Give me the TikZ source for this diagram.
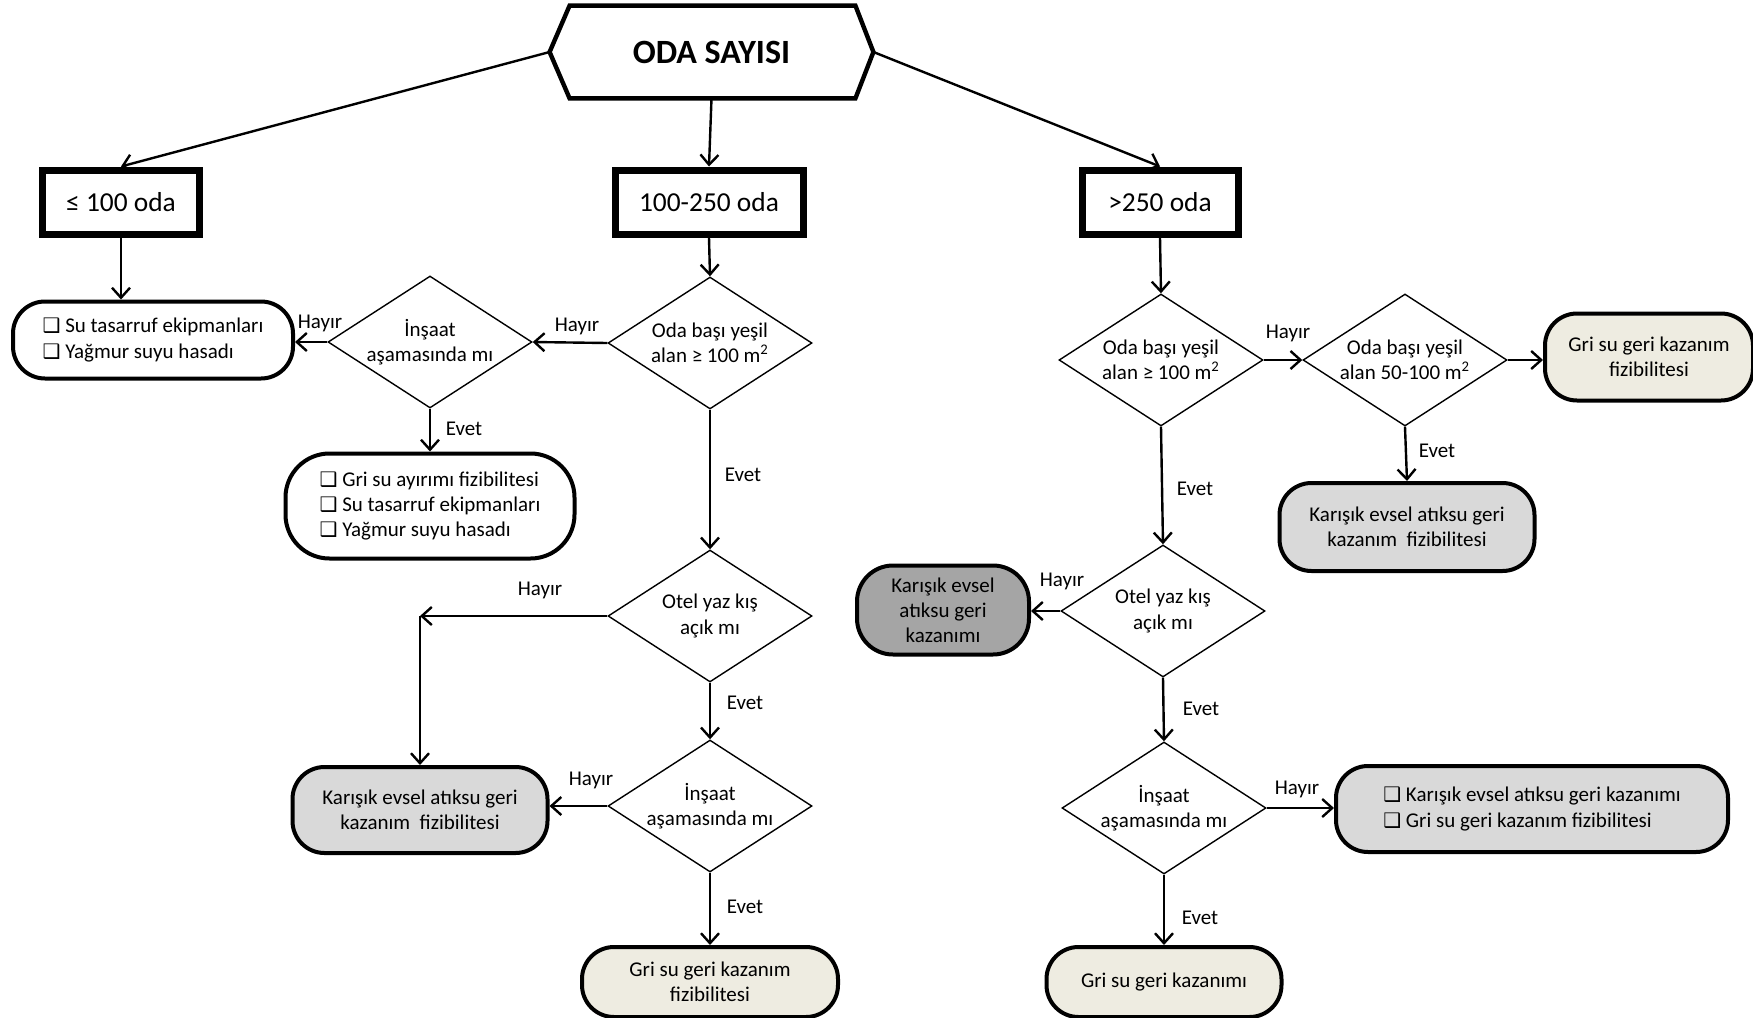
\documentclass[tikz,border=0pt]{standalone}
\usepackage{fontspec}
\setmainfont{Carlito}
\newfontfamily\dejavu{DejaVu Sans}
\usetikzlibrary{shapes.geometric,arrows.meta}
\newcommand{\cbx}{{\dejavu\fontsize{10}{10}\selectfont ❑}\ }
\begin{document}
\begin{tikzpicture}[x=0.5pt,y=-0.5pt,
 every node/.style={font=\fontsize{10.5}{12.6}\selectfont},
 box/.style={draw, line width=3.5pt, minimum height=32pt, font=\fontsize{13.7}{15}\selectfont, inner sep=0pt, text depth=-1pt},
 dia/.style={draw, diamond, line width=0.7pt, aspect=1.55, inner sep=0pt, minimum width=102pt, minimum height=66pt, align=center},
 pill/.style={draw, line width=2pt, rounded corners=16pt, align=center, inner sep=0pt},
 pilllist/.style={pill, align=left},
 lgray/.style={fill=lg},
 cream/.style={fill=cr},
 dgray/.style={fill=dg},
 arr/.style={-{Straight Barb[length=5pt,width=9pt]}, line width=1.2pt},
 lbl/.style={inner sep=1pt},
]
\definecolor{lg}{HTML}{D9D9D9}
\definecolor{cr}{HTML}{EEECE1}
\definecolor{dg}{HTML}{A5A5A5}
\useasboundingbox (0,0) rectangle (1753,1018);

% top hexagon
\node[minimum width=161.5pt, minimum height=46pt, inner sep=0pt, font=\bfseries\fontsize{17}{20}\selectfont] (oda) at (711.5,52) {ODA SAYISI};
\draw[line width=2.2pt, line join=miter] (oda.west) -- ([xshift=10pt]oda.north west) -- ([xshift=-9pt]oda.north east) -- (oda.east) -- ([xshift=-9pt]oda.south east) -- ([xshift=10pt]oda.south west) -- cycle;

% boxes
\node[box, minimum width=78.5pt] (b1) at (121,202) {≤ 100 oda};
\node[box, minimum width=94pt] (b2) at (709,202) {100-250 oda};
\node[box, minimum width=78pt] (b3) at (1160,202) {>250 oda};

% diamonds
\node[dia] (d1) at (430,342) {İnşaat\\aşamasında mı};
\node[dia] (d2) at (710,343) {Oda başı yeşil\\alan ≥ 100 m\textsuperscript{2}};
\node[dia] (d3) at (710,616) {Otel yaz kış\\açık mı};
\node[dia] (d4) at (710,806) {İnşaat\\aşamasında mı};
\node[dia] (d5) at (1161,360) {Oda başı yeşil\\alan ≥ 100 m\textsuperscript{2}};
\node[dia] (d6) at (1405,360) {Oda başı yeşil\\alan 50-100 m\textsuperscript{2}};
\node[dia] (d7) at (1163,611) {Otel yaz kış\\açık mı};
\node[dia] (d8) at (1164,808) {İnşaat\\aşamasında mı};

% pills
\node[pilllist, minimum width=140pt, minimum height=38.5pt] (p1) at (153,340) {\cbx Su tasarruf ekipmanları\\\cbx Yağmur suyu hasadı};
\node[pilllist, rounded corners=22pt, minimum width=144.5pt, minimum height=52.5pt] (p2) at (430,506) {\cbx Gri su ayırımı fizibilitesi\\\cbx Su tasarruf ekipmanları\\\cbx Yağmur suyu hasadı};
\node[pill, lgray, minimum width=127.5pt, minimum height=43pt] (p3) at (420,810) {Karışık evsel atıksu geri\\kazanım\ \ fizibilitesi};
\node[pill, cream, minimum width=128pt, minimum height=35pt] (p4) at (710,982) {Gri su geri kazanım\\fizibilitesi};
\node[pill, cream, minimum width=104pt, minimum height=43.5pt] (p5) at (1649,357) {Gri su geri kazanım\\fizibilitesi};
\node[pill, lgray, minimum width=127.5pt, minimum height=44pt] (p6) at (1407,527) {Karışık evsel atıksu geri\\kazanım\ \ fizibilitesi};
\node[pill, dgray, rounded corners=18pt, minimum width=86pt, minimum height=44.5pt] (p7) at (943,610) {Karışık evsel\\atıksu geri\\kazanımı};
\node[pilllist, lgray, minimum width=196pt, minimum height=43pt] (p8) at (1532,809) {\cbx Karışık evsel atıksu geri kazanımı\\\cbx Gri su geri kazanım fizibilitesi};
\node[pill, cream, minimum width=117.5pt, minimum height=35pt] (p9) at (1164,982) {Gri su geri kazanımı};

% connectors
\draw[arr] (oda.west) -- (b1.north);
\draw[arr] (oda.south) -- (b2.north);
\draw[arr] (oda.east) -- (b3.north);
\draw[arr] (b1.south) -- (b1.south |- p1.north);
\draw[arr] (b2.south) -- (d2.north);
\draw[arr] (d2.west) -- (d1.east);
\draw[arr] (d1.west) -- (d1.west -| p1.east);
\draw[arr] (d1.south) -- (p2.north);
\draw[arr] (d2.south) -- (d3.north);
\coordinate (c1) at (p3.north |- d3.west);
\draw[arr] (d3.west) -- (c1);
\draw[arr] (c1) -- (p3.north);
\draw[arr] (d3.south) -- (d4.north);
\draw[arr] (d4.west) -- (d4.west -| p3.east);
\draw[arr] (d4.south) -- (p4.north);
\draw[arr] (b3.south) -- (d5.north);
\draw[arr] (d5.east) -- (d6.west);
\draw[arr] (d6.east) -- (d6.east -| p5.west);
\draw[arr] (d6.south) -- (p6.north);
\draw[arr] (d5.south) -- (d7.north);
\draw[arr] (d7.west) -- (d7.west -| p7.east);
\draw[arr] (d7.south) -- (d8.north);
\draw[arr] (d8.east) -- (d8.east -| p8.west);
\draw[arr] (d8.south) -- (p9.north);

% labels
\node[lbl] (l1) at (577,326) {Hayır};
\node[lbl] (l2) at (320,323) {Hayır};
\node[lbl] (l3) at (464,429) {Evet};
\node[lbl] (l4) at (743,475) {Evet};
\node[lbl] (l5) at (540,590) {Hayır};
\node[lbl] (l6) at (745,703) {Evet};
\node[lbl] (l7) at (591,780) {Hayır};
\node[lbl] (l8) at (745,907) {Evet};
\node[lbl] (l9) at (1288,333) {Hayır};
\node[lbl] (l10) at (1437,451) {Evet};
\node[lbl] (l11) at (1195,489) {Evet};
\node[lbl] (l12) at (1062,581) {Hayır};
\node[lbl] (l13) at (1201,709) {Evet};
\node[lbl] (l14) at (1297,789) {Hayır};
\node[lbl] (l15) at (1200,918) {Evet};
\end{tikzpicture}
\end{document}
